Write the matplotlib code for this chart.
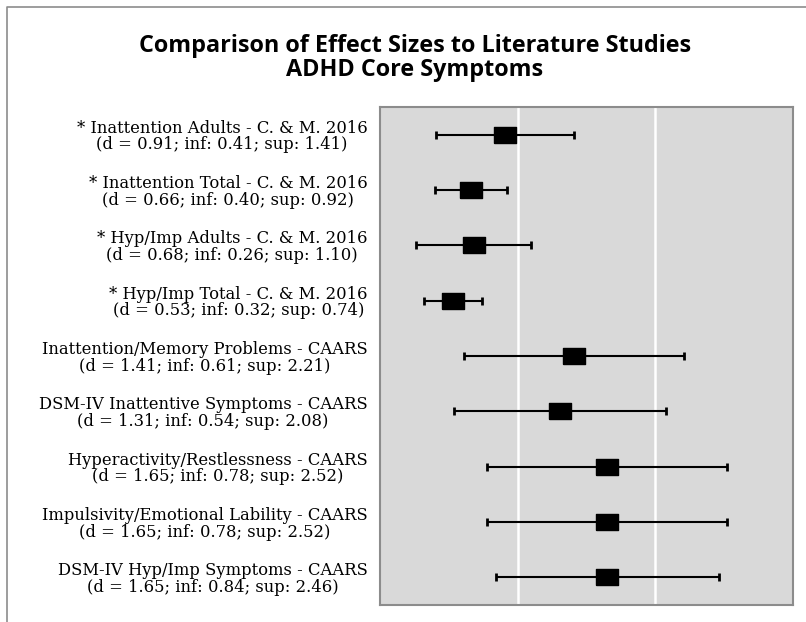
import matplotlib
matplotlib.use("Agg")
import matplotlib.pyplot as plt
from matplotlib.lines import Line2D

# data
labels = [
    "* Inattention Adults - C. & M. 2016",
    "* Inattention Total - C. & M. 2016",
    "* Hyp/Imp Adults - C. & M. 2016",
    "* Hyp/Imp Total - C. & M. 2016",
    "Inattention/Memory Problems - CAARS",
    "DSM-IV Inattentive Symptoms - CAARS",
    "Hyperactivity/Restlessness - CAARS",
    "Impulsivity/Emotional Lability - CAARS",
    "DSM-IV Hyp/Imp Symptoms - CAARS",
]
d_values = [0.91, 0.66, 0.68, 0.53, 1.41, 1.31, 1.65, 1.65, 1.65]
inf_values = [0.41, 0.40, 0.26, 0.32, 0.61, 0.54, 0.78, 0.78, 0.84]
sup_values = [1.41, 0.92, 1.10, 0.74, 2.21, 2.08, 2.52, 2.52, 2.46]

W, H = 806, 622
fig = plt.figure(figsize=(W / 100, H / 100), dpi=100)
ax = fig.add_axes([380 / W, 1 - 605 / H, (793 - 380) / W, (605 - 107) / H])

ypos = list(range(1, len(labels) + 1))
err_lo = [d - lo for d, lo in zip(d_values, inf_values)]
err_hi = [hi - d for d, hi in zip(d_values, sup_values)]

# rectangular marker (wider than tall)
box = [(-1, -0.7), (1, -0.7), (1, 0.7), (-1, 0.7), (-1, -0.7)]
ax.errorbar(d_values, ypos, xerr=[err_lo, err_hi], fmt="none",
            ecolor="black", elinewidth=1.5, capsize=2.8, capthick=2, zorder=3)
ax.plot(d_values, ypos, linestyle="none", marker=box, markersize=15.5,
        color="black", zorder=4)

ax.set_xlim(0, 3)
ax.set_ylim(9.5, 0.5)
ax.set_facecolor("#d9d9d9")
for x in [1, 2]:
    ax.axvline(x, color="white", linewidth=1.8, zorder=1)
for s in ax.spines.values():
    s.set_color("#8c8c8c")
    s.set_linewidth(1.5)

ax.set_xticks([])
ax.set_yticks(ypos)
tick_text = ["%s\n(d = %.2f; inf: %.2f; sup: %.2f)" % (l, d, lo, hi)
             for l, d, lo, hi in zip(labels, d_values, inf_values, sup_values)]
ax.set_yticklabels(tick_text, family="DejaVu Serif", fontsize=11.8,
                   multialignment="center", linespacing=0.97)
ax.tick_params(axis="y", length=0, pad=9)

fig.text(415 / W, 1 - 52 / H, "Comparison of Effect Sizes to Literature Studies",
         ha="center", va="baseline", fontsize=16.8, fontweight="bold", family="Open Sans")
fig.text(415 / W, 1 - 76 / H, "ADHD Core Symptoms",
         ha="center", va="baseline", fontsize=16.8, fontweight="bold", family="Open Sans")

# outer frame, cut off at right and bottom
fig.add_artist(Line2D([7 / W, 7 / W, 1.01], [-0.01, 1 - 7 / H, 1 - 7 / H],
                      transform=fig.transFigure, color="#8c8c8c", linewidth=1.2))

fig.savefig("out.png", dpi=100)
